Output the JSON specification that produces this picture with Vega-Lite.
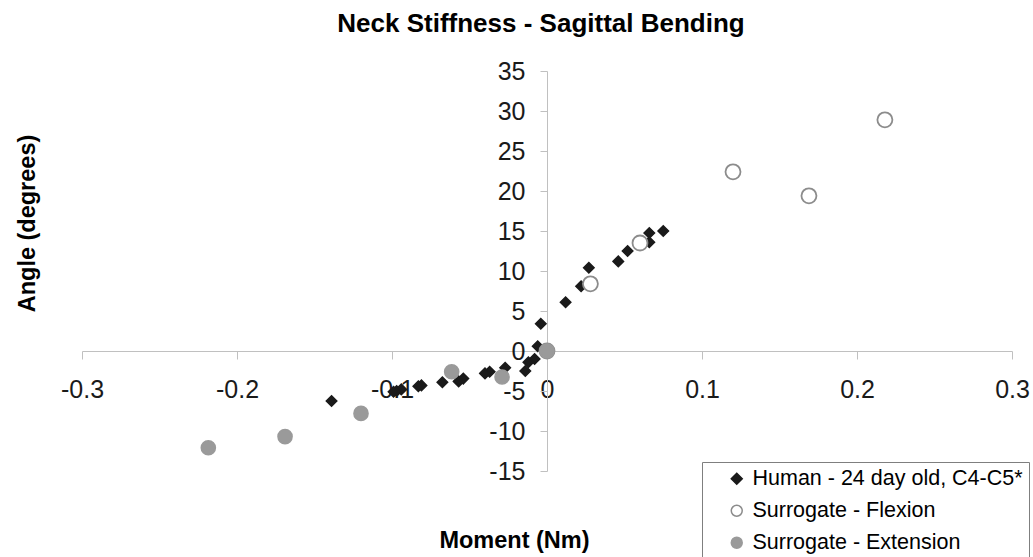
{
  "$schema": "https://vega.github.io/schema/vega-lite/v6.json",
  "width": 930,
  "height": 400,
  "autosize": {"type": "none"},
  "padding": {"left": 82, "top": 71, "right": 21, "bottom": 86},
  "background": "white",
  "config": {
    "view": {"stroke": null},
    "font": "Liberation Sans",
    "legend": {
      "orient": "none",
      "legendX": 620,
      "legendY": 391,
      "strokeColor": "#7f7f7f",
      "fillColor": "white",
      "padding": 6,
      "rowPadding": 9,
      "symbolOffset": 18,
      "labelOffset": 5,
      "symbolSize": 120,
      "symbolStrokeWidth": 1.5,
      "labelFont": "Liberation Sans",
      "labelFontSize": 21.5,
      "labelColor": "#000000",
      "labelLimit": 400
    }
  },
  "title": {
    "text": "Neck Stiffness - Sagittal Bending",
    "font": "Liberation Sans",
    "fontSize": 26,
    "fontWeight": "bold",
    "color": "#000000",
    "anchor": "middle",
    "frame": "group",
    "offset": 22,
    "dx": -6
  },
  "data": {
    "values": [
      {"series": "Human - 24 day old, C4-C5*", "moment": 0.075, "angle": 15.0},
      {"series": "Human - 24 day old, C4-C5*", "moment": 0.066, "angle": 14.75},
      {"series": "Human - 24 day old, C4-C5*", "moment": 0.066, "angle": 13.6},
      {"series": "Human - 24 day old, C4-C5*", "moment": 0.052, "angle": 12.5},
      {"series": "Human - 24 day old, C4-C5*", "moment": 0.046, "angle": 11.2},
      {"series": "Human - 24 day old, C4-C5*", "moment": 0.027, "angle": 10.4},
      {"series": "Human - 24 day old, C4-C5*", "moment": 0.022, "angle": 8.1},
      {"series": "Human - 24 day old, C4-C5*", "moment": 0.012, "angle": 6.1},
      {"series": "Human - 24 day old, C4-C5*", "moment": -0.004, "angle": 3.4},
      {"series": "Human - 24 day old, C4-C5*", "moment": -0.006, "angle": 0.6},
      {"series": "Human - 24 day old, C4-C5*", "moment": -0.008, "angle": -1.0},
      {"series": "Human - 24 day old, C4-C5*", "moment": -0.012, "angle": -1.4},
      {"series": "Human - 24 day old, C4-C5*", "moment": -0.014, "angle": -2.5},
      {"series": "Human - 24 day old, C4-C5*", "moment": -0.027, "angle": -2.1},
      {"series": "Human - 24 day old, C4-C5*", "moment": -0.037, "angle": -2.6},
      {"series": "Human - 24 day old, C4-C5*", "moment": -0.040, "angle": -2.8},
      {"series": "Human - 24 day old, C4-C5*", "moment": -0.054, "angle": -3.45},
      {"series": "Human - 24 day old, C4-C5*", "moment": -0.057, "angle": -3.8},
      {"series": "Human - 24 day old, C4-C5*", "moment": -0.0675, "angle": -3.9},
      {"series": "Human - 24 day old, C4-C5*", "moment": -0.081, "angle": -4.3},
      {"series": "Human - 24 day old, C4-C5*", "moment": -0.083, "angle": -4.4},
      {"series": "Human - 24 day old, C4-C5*", "moment": -0.094, "angle": -4.8},
      {"series": "Human - 24 day old, C4-C5*", "moment": -0.097, "angle": -5.0},
      {"series": "Human - 24 day old, C4-C5*", "moment": -0.099, "angle": -5.1},
      {"series": "Human - 24 day old, C4-C5*", "moment": -0.139, "angle": -6.25},
      {"series": "Surrogate - Flexion", "moment": 0.0, "angle": 0.0},
      {"series": "Surrogate - Flexion", "moment": 0.028, "angle": 8.4},
      {"series": "Surrogate - Flexion", "moment": 0.060, "angle": 13.5},
      {"series": "Surrogate - Flexion", "moment": 0.120, "angle": 22.4},
      {"series": "Surrogate - Flexion", "moment": 0.169, "angle": 19.4},
      {"series": "Surrogate - Flexion", "moment": 0.218, "angle": 28.9},
      {"series": "Surrogate - Extension", "moment": 0.0, "angle": 0.0},
      {"series": "Surrogate - Extension", "moment": -0.029, "angle": -3.25},
      {"series": "Surrogate - Extension", "moment": -0.0615, "angle": -2.6},
      {"series": "Surrogate - Extension", "moment": -0.120, "angle": -7.8},
      {"series": "Surrogate - Extension", "moment": -0.169, "angle": -10.7},
      {"series": "Surrogate - Extension", "moment": -0.2185, "angle": -12.1}
    ]
  },
  "encoding": {
    "x": {
      "field": "moment",
      "type": "quantitative",
      "scale": {"domain": [-0.3, 0.3], "nice": false, "zero": false},
      "axis": {
        "orient": "bottom",
        "offset": -120,
        "values": [-0.3, -0.2, -0.1, 0, 0.1, 0.2, 0.3],
        "labelExpr": "'' + datum.value",
        "grid": false,
        "domainColor": "#c0c0c0",
        "tickColor": "#c0c0c0",
        "tickSize": 8,
        "labelPadding": 18,
        "labelFont": "Liberation Sans",
        "labelFontSize": 25,
        "labelColor": "#1a1a1a",
        "labelOverlap": false,
        "labelFlush": false,
        "title": "Moment (Nm)",
        "titleFont": "Liberation Sans",
        "titleFontSize": 23.5,
        "titleFontWeight": "bold",
        "titleColor": "#000000",
        "titleX": 432,
        "titleY": 189,
        "titleBaseline": "middle",
        "titleAlign": "center",
        "titleAnchor": null
      }
    },
    "y": {
      "field": "angle",
      "type": "quantitative",
      "scale": {"domain": [-15, 35], "nice": false, "zero": false},
      "axis": {
        "orient": "left",
        "offset": -465,
        "values": [-15, -10, -5, 0, 5, 10, 15, 20, 25, 30, 35],
        "labelExpr": "'' + datum.value",
        "grid": false,
        "domainColor": "#c0c0c0",
        "tickColor": "#c0c0c0",
        "tickSize": 7,
        "labelPadding": 15,
        "labelFont": "Liberation Sans",
        "labelFontSize": 25,
        "labelColor": "#1a1a1a",
        "labelOverlap": false,
        "labelFlush": false,
        "title": "Angle (degrees)",
        "titleFont": "Liberation Sans",
        "titleFontSize": 23.5,
        "titleFontWeight": "bold",
        "titleColor": "#000000",
        "titleX": -520,
        "titleY": 152,
        "titleAngle": -90,
        "titleBaseline": "middle",
        "titleAlign": "center",
        "titleAnchor": null
      }
    },
    "shape": {
      "field": "series",
      "type": "nominal",
      "scale": {
        "domain": ["Human - 24 day old, C4-C5*", "Surrogate - Flexion", "Surrogate - Extension"],
        "range": ["diamond", "circle", "circle"]
      },
      "legend": {"title": null}
    },
    "fill": {
      "field": "series",
      "type": "nominal",
      "scale": {
        "domain": ["Human - 24 day old, C4-C5*", "Surrogate - Flexion", "Surrogate - Extension"],
        "range": ["#1a1a1a", "#ffffff", "#9a9a9a"]
      },
      "legend": {"title": null}
    },
    "stroke": {
      "field": "series",
      "type": "nominal",
      "scale": {
        "domain": ["Human - 24 day old, C4-C5*", "Surrogate - Flexion", "Surrogate - Extension"],
        "range": ["#1a1a1a", "#8c8c8c", "#9a9a9a"]
      },
      "legend": {"title": null}
    }
  },
  "layer": [
    {
      "transform": [{"filter": "datum.series === 'Human - 24 day old, C4-C5*'"}],
      "mark": {"type": "point", "filled": true, "strokeWidth": 1.5, "opacity": 1, "size": 110}
    },
    {
      "transform": [{"filter": "datum.series === 'Surrogate - Flexion'"}],
      "mark": {"type": "point", "filled": true, "strokeWidth": 1.8, "opacity": 1, "size": 225}
    },
    {
      "transform": [{"filter": "datum.series === 'Surrogate - Extension'"}],
      "mark": {"type": "point", "filled": true, "strokeWidth": 1.5, "opacity": 1, "size": 200}
    }
  ]
}
